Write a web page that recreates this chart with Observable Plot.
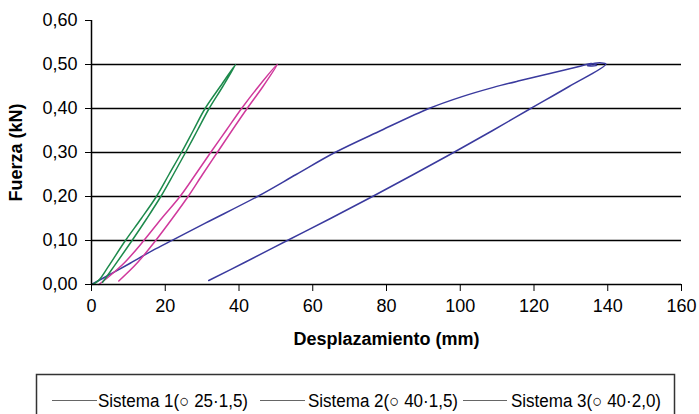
<!DOCTYPE html>
<html>
<head>
<meta charset="utf-8">
<script src="https://cdn.jsdelivr.net/npm/d3@7"></script>
<script src="https://cdn.jsdelivr.net/npm/@observablehq/plot@0.6"></script>
<style>
  html, body { margin: 0; padding: 0; background: #fff; }
  #chart svg { display: block; }
  #legend { display: block; }
</style>
</head>
<body>
<div id="chart"></div>
<svg id="legend" width="699" height="52"></svg>
<script>
// ---- data ----
const seriesNames = ["Sistema 1(\u25CB 25\u00B71,5)", "Sistema 2(\u25CB 40\u00B71,5)", "Sistema 3(\u25CB 40\u00B72,0)"];
const seriesColors = ["#3a3a9e", "#d0399c", "#1d8a4c"];

// Sistema 1 (blue): loading then unloading
const s1Disp  = [0, 5, 10, 16.5, 22.5, 31, 45, 55.5, 66, 78.5, 91.5, 100.5, 109, 116, 122, 128, 132.5, 135.5, 137, 134.5, 136.5, 139.5, 129.5, 119.1, 108.8, 98.2, 87.3, 76.2, 64.8, 53.1, 41.5, 31.8];
const s1Force = [0, 0.023, 0.046, 0.077, 0.103, 0.14, 0.2, 0.25, 0.3, 0.35, 0.4, 0.427, 0.448, 0.463, 0.475, 0.487, 0.496, 0.502, 0.498, 0.497, 0.503, 0.501, 0.45, 0.4, 0.35, 0.3, 0.25, 0.2, 0.15, 0.1, 0.05, 0.009];

// Sistema 2 (magenta)
const s2Disp  = [2, 5, 9, 14.2, 19, 24, 28.2, 32.3, 36.5, 40.7, 45.3, 50.4, 46.5, 42.2, 38.1, 34.1, 30.1, 26.2, 21.9, 17.4, 12.5, 7.4];
const s2Force = [0, 0.02, 0.05, 0.1, 0.15, 0.2, 0.25, 0.3, 0.35, 0.4, 0.45, 0.5, 0.45, 0.4, 0.35, 0.3, 0.25, 0.2, 0.15, 0.1, 0.05, 0.008];

// Sistema 3 (green)
const s3Disp  = [0.3, 2, 4.5, 9.2, 13.5, 17.6, 21, 24.4, 27.6, 30.8, 34.9, 39.1, 35.6, 31.9, 28.7, 25.5, 22.2, 18.8, 15, 11, 6, 3];
const s3Force = [0, 0.01, 0.04, 0.1, 0.15, 0.2, 0.25, 0.3, 0.35, 0.4, 0.45, 0.5, 0.45, 0.4, 0.35, 0.3, 0.25, 0.2, 0.15, 0.1, 0.04, 0.005];

const xTicks = [0, 20, 40, 60, 80, 100, 120, 140, 160];
const yTicks = [0, 0.1, 0.2, 0.3, 0.4, 0.5, 0.6];
const gridValues = [0.1, 0.2, 0.3, 0.4, 0.5];
const xLabel = "Desplazamiento (mm)";
const yLabel = "Fuerza (kN)";

// ---- build tables ----
function toRows(dx, fy) { return dx.map((d, i) => ({d, f: fy[i]})); }
const rows = [toRows(s1Disp, s1Force), toRows(s2Disp, s2Force), toRows(s3Disp, s3Force)];

const fmt = v => v.toFixed(2).replace(".", ",");
const font = "'Liberation Sans', Arial, Helvetica, sans-serif";

const chart = Plot.plot({
  width: 699,
  height: 365,
  marginLeft: 91,
  marginRight: 18,
  marginTop: 20,
  marginBottom: 81,
  style: {fontFamily: font, fontSize: "18px", color: "#000", background: "#fff", overflow: "visible"},
  x: {domain: [0, 160]},
  y: {domain: [0, 0.6]},
  marks: [
    Plot.ruleY(gridValues, {stroke: "#000", strokeWidth: 1.4}),
    ...rows.map((r, i) => Plot.line(r, {x: "d", y: "f", stroke: seriesColors[i], strokeWidth: 1.5, curve: "catmull-rom"})),
    Plot.axisX({ticks: xTicks, tickSize: 7, tickPadding: 8, tickFormat: d => String(d), stroke: "#000",
      label: xLabel, labelAnchor: "center", labelArrow: false, labelOffset: 60}),
    Plot.axisY({ticks: yTicks, tickSize: 6, tickPadding: 8, tickFormat: fmt, stroke: "#000",
      label: yLabel, labelAnchor: "center", labelArrow: false, labelOffset: 82}),
    Plot.ruleX([0], {stroke: "#000", strokeWidth: 1.5}),
    Plot.ruleY([0], {stroke: "#000", strokeWidth: 1.5})
  ]
});
document.getElementById("chart").appendChild(chart);
d3.select(chart).selectAll('g[aria-label="x-axis label"] text, g[aria-label="y-axis label"] text')
  .attr("font-weight", "bold");

// ---- legend (below the svg) ----
const lg = d3.select("#legend");
lg.append("rect").attr("x", 36.5).attr("y", 9.5).attr("width", 638).attr("height", 42)
  .attr("fill", "none").attr("stroke", "#333").attr("stroke-width", 1.5);
const lineX = [[52, 97], [260, 305], [463, 507]];
const textX = [98, 308, 511];
seriesNames.forEach((name, i) => {
  lg.append("line").attr("x1", lineX[i][0]).attr("x2", lineX[i][1]).attr("y1", 35.5).attr("y2", 35.5)
    .attr("stroke", "#666").attr("stroke-width", 1);
  lg.append("text").attr("x", textX[i]).attr("y", 42).text(name)
    .attr("font-family", font).attr("font-size", 18)
    .attr("textLength", 150).attr("lengthAdjust", "spacingAndGlyphs");
});
</script>
</body>
</html>
